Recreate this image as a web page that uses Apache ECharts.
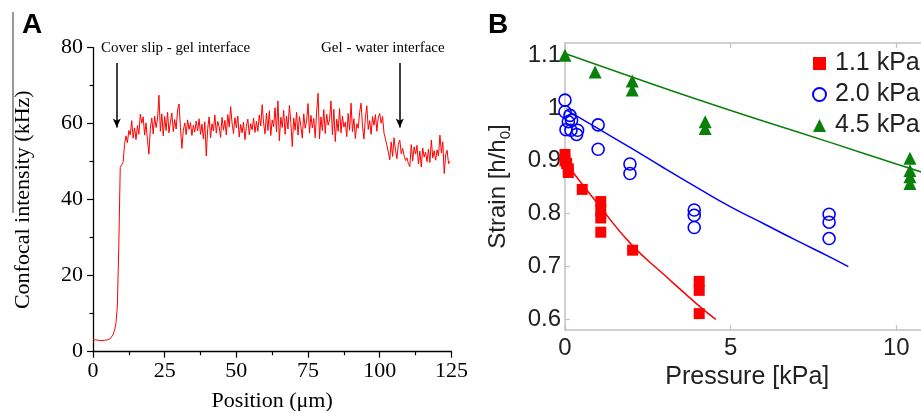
<!DOCTYPE html>
<html><head><meta charset="utf-8">
<script src="https://cdn.jsdelivr.net/npm/echarts@6/dist/echarts.min.js"></script>
<style>html,body{margin:0;padding:0;background:#fff}#c{width:921px;height:411px}</style>
</head><body><div id="c"></div>
<script>
// ---------- Panel A: confocal intensity profile ----------
const positionStep = 0.5; // µm between samples, starting at 0
const intensity = [
  3.2,3.0,3.1,2.9,3.0,3.1,2.9,3.0,3.0,2.9,
  3.1,3.2,3.4,3.8,4.5,5.6,7.5,12.0,28.0,48.5,
  49.2,49.8,54.5,56.8,55.0,58.2,57.0,60.8,56.2,58.9,
  55.8,59.5,57.2,62.5,60.1,61.8,57.0,60.2,55.6,52.0,
  58.8,61.5,57.3,62.0,59.0,61.2,67.5,58.0,62.6,56.8,
  61.9,58.2,63.0,57.6,60.4,62.8,57.9,61.1,58.6,63.6,
  65.2,59.0,53.5,58.3,60.2,57.1,61.0,58.5,60.3,56.9,
  59.6,57.8,60.7,58.1,61.3,57.2,59.9,56.0,60.5,51.5,
  58.7,61.8,56.3,60.0,58.1,62.3,57.5,60.6,59.2,56.4,
  61.7,58.3,60.9,57.0,62.4,59.1,64.5,60.2,57.4,61.6,
  58.9,62.0,56.5,59.8,57.6,60.4,55.8,59.3,61.2,57.1,
  60.0,58.4,61.5,57.7,60.6,58.0,62.3,59.4,65.0,60.1,
  57.3,62.8,58.2,63.4,56.9,61.0,59.2,64.2,57.8,66.0,
  55.5,61.7,59.0,63.5,57.2,62.0,58.6,64.8,60.3,54.0,
  61.5,58.3,63.0,57.0,61.9,59.4,56.2,62.6,58.8,60.7,
  65.3,57.5,62.2,58.9,61.4,56.3,63.1,68.0,56.0,61.8,
  58.2,63.7,57.4,62.5,59.6,61.0,66.0,57.1,63.8,55.3,
  61.2,58.0,64.0,57.6,62.0,59.1,60.4,56.6,62.7,58.3,
  65.4,57.9,61.3,56.1,60.0,58.8,63.0,65.4,59.2,56.0,
  61.6,64.7,58.5,60.8,57.2,61.9,59.6,62.4,58.0,61.7,
  62.7,60.1,61.9,57.5,56.0,54.3,52.5,50.5,55.2,51.4,
  56.3,53.0,50.8,54.6,55.7,52.1,53.5,51.6,50.3,51.0,
  49.5,48.7,54.5,50.2,53.9,52.0,54.3,49.4,52.8,48.6,
  53.6,51.2,52.5,50.0,53.3,49.8,55.7,51.0,52.9,50.4,
  53.1,51.5,57.0,52.3,55.2,46.9,51.8,53.0,49.5,50.1
];
const arrowPositions = [8.3, 107];        // µm
const arrowFromTo = [76, 59];             // kHz
const annotations = ['Cover slip - gel interface', 'Gel - water interface'];

// ---------- Panel B: strain vs pressure ----------
const seriesNames = ['1.1 kPa', '2.0 kPa', '4.5 kPa'];
const pressureSoft = [0, 0, 0.05, 0.1, 0.1, 0.52, 1.08, 1.08, 1.08, 1.08, 2.04, 4.05, 4.05, 4.05];
const strainSoft   = [0.912, 0.9, 0.895, 0.885, 0.878, 0.846, 0.823, 0.806, 0.792, 0.765, 0.731, 0.672, 0.655, 0.611];
const pressureMid  = [0, 0, 0.15, 0.1, 0.2, 0.03, 0.18, 0.38, 0.35, 1.0, 1.0, 1.96, 1.96, 3.9, 3.9, 3.9, 7.97, 7.97, 7.97];
const strainMid    = [1.015, 0.993, 0.986, 0.974, 0.977, 0.959, 0.958, 0.958, 0.95, 0.968, 0.922, 0.894, 0.876, 0.807, 0.797, 0.774, 0.799, 0.784, 0.753];
const pressureStiff= [0, 0.91, 2.03, 2.03, 4.23, 4.23, 10.41, 10.41, 10.41, 10.41];
const strainStiff  = [1.1, 1.068, 1.051, 1.034, 0.974, 0.961, 0.905, 0.882, 0.87, 0.857];
const fitSoftX  = [0, 1, 2, 3, 4, 4.55];
const fitSoftY  = [0.898, 0.818, 0.742, 0.684, 0.628, 0.600];
const fitMidX   = [0.05, 1, 2, 3, 4, 5, 6, 7, 8, 8.55];
const fitMidY   = [0.996, 0.961, 0.924, 0.886, 0.849, 0.813, 0.781, 0.749, 0.718, 0.700];
const fitStiffX = [0, 2, 4, 6, 8, 10, 11];
const fitStiffY = [1.103, 1.059, 1.016, 0.975, 0.935, 0.894, 0.874];
const strainTicks = [0.6, 0.7, 0.8, 0.9, 1.0, 1.1];
const pressureTicks = [0, 5, 10];

const zip = (xs, ys) => xs.map((x, i) => [x, ys[i]]);
const serif = 'Liberation Serif', sans = 'Liberation Sans';
const RED = '#ff0000', BLUE = '#0000ff', GREEN = '#0a800a', GREY = '#c2c2c2';

const chart = echarts.init(document.getElementById('c'), null, {renderer: 'canvas'});
const profile = intensity.map((v, i) => [i * positionStep, v]);

const option = {
  animation: false,
  backgroundColor: '#fff',
  grid: [
    {left: 93, top: 47.7, width: 358.4, height: 304, outerBoundsMode: 'none', containLabel: false},
    {left: 565, top: 43, width: 364.5, height: 287, outerBoundsMode: 'none', containLabel: false}
  ],
  xAxis: [
    {gridIndex: 0, type: 'value', min: 0, max: 125, interval: 25,
     axisLine: {lineStyle: {color: '#000', width: 1.3}},
     axisTick: {length: 6, lineStyle: {color: '#000', width: 1.2}},
     minorTick: {show: true, splitNumber: 2, length: 3.5, lineStyle: {color: '#000', width: 1.2}},
     splitLine: {show: false},
     axisLabel: {fontFamily: serif, fontSize: 22, color: '#000', margin: 9},
     name: 'Position (μm)', nameLocation: 'middle', nameGap: 39,
     nameTextStyle: {fontFamily: serif, fontSize: 22, color: '#000'}},
    {gridIndex: 1, type: 'value', min: 0, max: 11,
     axisLine: {lineStyle: {color: GREY, width: 1.5}},
     axisTick: {inside: true, length: 5, customValues: pressureTicks, lineStyle: {color: GREY, width: 1.2}},
     splitLine: {show: false},
     axisLabel: {customValues: pressureTicks, fontFamily: sans, fontSize: 24, color: '#222', margin: 6},
     name: 'Pressure [kPa]', nameLocation: 'middle', nameGap: 27,
     nameTextStyle: {fontFamily: sans, fontSize: 25, color: '#222'}},
    {gridIndex: 1, type: 'value', position: 'top', min: 0, max: 11,
     axisLine: {lineStyle: {color: GREY, width: 1.5}},
     axisTick: {inside: true, length: 5, customValues: pressureTicks, lineStyle: {color: GREY, width: 1.2}},
     splitLine: {show: false}, axisLabel: {show: false}}
  ],
  yAxis: [
    {gridIndex: 0, type: 'value', min: 0, max: 80, interval: 20,
     axisLine: {show: true, lineStyle: {color: '#000', width: 1.3}},
     axisTick: {show: true, length: 6, lineStyle: {color: '#000', width: 1.2}},
     minorTick: {show: true, splitNumber: 2, length: 3.5, lineStyle: {color: '#000', width: 1.2}},
     splitLine: {show: false},
     axisLabel: {fontFamily: serif, fontSize: 22, color: '#000', margin: 10},
     name: 'Confocal intensity (kHz)', nameLocation: 'middle', nameGap: 59,
     nameTextStyle: {fontFamily: serif, fontSize: 22, color: '#000'}},
    {gridIndex: 1, type: 'value', min: 0.58, max: 1.123,
     axisLine: {show: true, lineStyle: {color: GREY, width: 1.5}},
     axisTick: {show: true, inside: true, length: 5, customValues: strainTicks, lineStyle: {color: GREY, width: 1.2}},
     splitLine: {show: false},
     axisLabel: {customValues: strainTicks, fontFamily: sans, fontSize: 24, color: '#222', margin: 4,
                 formatter: v => String(Math.round(v * 10) / 10)},
     name: 'Strain [h/h{sub|0}]', nameLocation: 'middle', nameGap: 52,
     nameTextStyle: {fontFamily: sans, fontSize: 24, color: '#222',
       rich: {sub: {fontFamily: sans, fontSize: 15, color: '#222', verticalAlign: 'bottom', padding: [14, 0, 0, 0]}}}}
  ],
  legend: {
    show: true, orient: 'vertical', left: 807, top: 46, itemWidth: 13, itemHeight: 13, itemGap: 6,
    selectedMode: false,
    textStyle: {fontFamily: sans, fontSize: 25, color: '#222', padding: [0, 0, 0, 4]},
    data: [{name: seriesNames[0], icon: 'rect'}, {name: seriesNames[1], icon: 'circle'}, {name: seriesNames[2], icon: 'triangle'}]
  },
  graphic: [
    {type: 'text', left: 22, top: 11, style: {text: 'A', font: 'bold 28px "Liberation Sans"', fill: '#000'}},
    {type: 'text', left: 488, top: 11, style: {text: 'B', font: 'bold 28px "Liberation Sans"', fill: '#000'}},
    {type: 'text', left: 101, top: 41, style: {text: annotations[0], font: '15px "Liberation Serif"', fill: '#000'}},
    {type: 'text', left: 321, top: 41, style: {text: annotations[1], font: '15px "Liberation Serif"', fill: '#000'}},
    {type: 'line', shape: {x1: 13, y1: 12, x2: 13, y2: 213}, style: {stroke: '#333', lineWidth: 1}}
  ],
  series: [
    {type: 'line', xAxisIndex: 0, yAxisIndex: 0, data: profile, showSymbol: false, symbol: 'none',
     lineStyle: {color: RED, width: 1}, silent: true,
     markLine: {silent: true, symbol: ['none', 'arrow'], symbolSize: [6, 9],
       lineStyle: {color: '#000', width: 1.5, type: 'solid'}, label: {show: false},
       data: arrowPositions.map(p => [{coord: [p, arrowFromTo[0]]}, {coord: [p, arrowFromTo[1]]}])}},
    {name: seriesNames[0] + ' fit', type: 'line', xAxisIndex: 1, yAxisIndex: 1, data: zip(fitSoftX, fitSoftY),
     showSymbol: false, symbol: 'none', smooth: true, lineStyle: {color: RED, width: 1.5}},
    {name: seriesNames[1] + ' fit', type: 'line', xAxisIndex: 1, yAxisIndex: 1, data: zip(fitMidX, fitMidY),
     showSymbol: false, symbol: 'none', smooth: true, lineStyle: {color: BLUE, width: 1.5}},
    {name: seriesNames[2] + ' fit', type: 'line', xAxisIndex: 1, yAxisIndex: 1, data: zip(fitStiffX, fitStiffY),
     showSymbol: false, symbol: 'none', smooth: true, lineStyle: {color: GREEN, width: 1.5}},
    {name: seriesNames[0], type: 'scatter', xAxisIndex: 1, yAxisIndex: 1, data: zip(pressureSoft, strainSoft),
     symbol: 'rect', symbolSize: 11, itemStyle: {color: RED, opacity: 1}, z: 5},
    {name: seriesNames[1], type: 'scatter', xAxisIndex: 1, yAxisIndex: 1, data: zip(pressureMid, strainMid),
     symbol: 'circle', symbolSize: 12, itemStyle: {color: 'rgba(0,0,0,0)', borderColor: BLUE, borderWidth: 1.6, opacity: 1}, z: 5},
    {name: seriesNames[2], type: 'scatter', xAxisIndex: 1, yAxisIndex: 1, data: zip(pressureStiff, strainStiff),
     symbol: 'triangle', symbolSize: 13, itemStyle: {color: GREEN, opacity: 1}, z: 5}
  ]
};
chart.setOption(option);
</script>
</body></html>
